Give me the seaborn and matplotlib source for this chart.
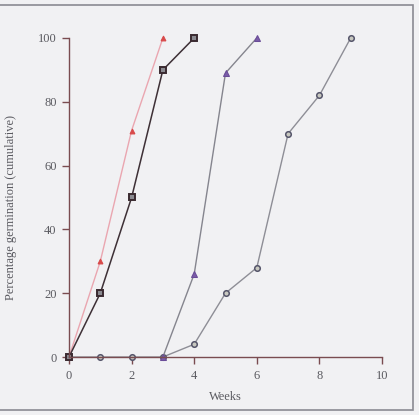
import numpy as np
import pandas as pd
import matplotlib
matplotlib.use("Agg")
import matplotlib.pyplot as plt
from matplotlib.patches import Rectangle
import seaborn as sns

# cumulative germination (%) per week, four treatments
weeks_a = [0, 1, 2, 3]
germ_a = [0, 30, 71, 100]

weeks_b = [0, 1, 2, 3, 4]
germ_b = [0, 20, 50, 90, 100]

weeks_c = [3, 4, 5, 6]
germ_c = [0, 26, 89, 100]

weeks_d = [0, 1, 2, 3, 4, 5, 6, 7, 8, 9]
germ_d = [0, 0, 0, 0, 4, 20, 28, 70, 82, 100]

x_ticks = [0, 2, 4, 6, 8, 10]
y_ticks = [0, 20, 40, 60, 80, 100]

sns.set_style("white")
plt.rcParams['font.family'] = ['Liberation Serif', 'DejaVu Serif']

bg = '#f1f1f3'
axis_col = '#7a4c50'
text_col = '#5a5a60'

fig = plt.figure(figsize=(4.19, 4.15), dpi=100, facecolor=bg)
ax = fig.add_axes([69/419, 1-357/415, (382-69)/419, (357-38)/415])
ax.set_facecolor(bg)

# grey circles (slowest)
sns.lineplot(x=weeks_d, y=germ_d, ax=ax, color='#8e8e96', lw=1.0,
             marker='o', markersize=4, markerfacecolor='#c8c8c0',
             markeredgecolor='#55556a', markeredgewidth=1.1, clip_on=False)
# purple triangles
sns.lineplot(x=weeks_c, y=germ_c, ax=ax, color='#85858e', lw=1.0,
             marker='^', markersize=4.5, markerfacecolor='#7a5ca8',
             markeredgecolor='#6a4c98', clip_on=False)
# red triangles
sns.lineplot(x=weeks_a, y=germ_a, ax=ax, color='#eaa6b0', lw=1.0,
             marker='^', markersize=3.5, markerfacecolor='#d84a4a',
             markeredgecolor='#d84a4a', clip_on=False)
# black squares
sns.lineplot(x=weeks_b, y=germ_b, ax=ax, color='#3e3036', lw=1.1,
             marker='s', markersize=4.5, markerfacecolor='#8a8a90',
             markeredgecolor='#3a2a30', markeredgewidth=1.4, clip_on=False)

ax.set_xlim(0, 10)
ax.set_ylim(0, 100)
ax.set_xticks(x_ticks)
ax.set_yticks(y_ticks)
for s in ['top', 'right']:
    ax.spines[s].set_visible(False)
for s in ['left', 'bottom']:
    ax.spines[s].set_color(axis_col)
    ax.spines[s].set_linewidth(1.0)
ax.tick_params(axis='both', direction='out', length=5, width=1,
               bottom=True, left=True,
               color=axis_col, labelcolor=text_col, labelsize=9, pad=4)

ax.set_xlabel('Weeks', fontsize=9, color=text_col, labelpad=7)
ax.set_ylabel('Percentage germination (cumulative)', fontsize=9,
              color=text_col)
ax.yaxis.set_label_coords(-0.165, 0.47)

# scan frame
fig.patches.append(Rectangle((-0.01, 5/415), 413/419 + 0.01, 405/415,
                             transform=fig.transFigure, fill=False,
                             edgecolor='#8a8a92', lw=1.2))

fig.savefig('out.png', dpi=100, facecolor=bg)
